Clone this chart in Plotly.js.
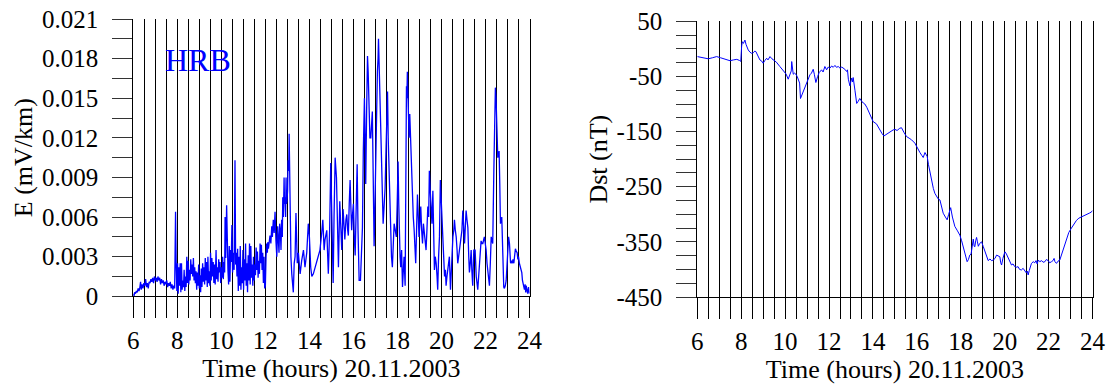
<!DOCTYPE html>
<html><head><meta charset="utf-8">
<script src="https://cdn.plot.ly/plotly-3.0.1.min.js"></script>
<style>html,body{margin:0;padding:0;background:#fff}#chart{width:1112px;height:390px}</style>
</head><body><div id="chart"></div>
<script>
// ---- Left panel: E (mV/km), HRB ----
const eTime = [6.00,6.03,6.06,6.10,6.14,6.18,6.22,6.26,6.30,6.33,6.36,6.40,6.44,6.48,6.52,6.56,6.60,6.64,6.68,6.72,6.76,6.80,6.84,6.88,6.92,6.96,7.00,7.04,7.08,7.12,7.16,7.20,7.24,7.28,7.32,7.36,7.40,7.44,7.48,7.52,7.56,7.60,7.64,7.68,7.72,7.76,7.80,7.84,7.88,7.92,7.95,7.98,8.01,8.04,8.07,8.10,8.13,8.16,8.19,8.22,8.25,8.28,8.31,8.34,8.37,8.40,8.43,8.46,8.49,8.52,8.55,8.58,8.61,8.64,8.67,8.70,8.73,8.76,8.79,8.82,8.85,8.88,8.91,8.94,8.97,9.00,9.03,9.06,9.09,9.12,9.15,9.18,9.21,9.24,9.27,9.30,9.33,9.36,9.39,9.42,9.45,9.48,9.51,9.54,9.57,9.60,9.63,9.66,9.69,9.72,9.76,9.79,9.82,9.85,9.88,9.91,9.94,9.97,10.00,10.03,10.06,10.09,10.12,10.15,10.17,10.20,10.24,10.27,10.30,10.33,10.36,10.39,10.42,10.45,10.48,10.51,10.55,10.58,10.62,10.65,10.68,10.71,10.74,10.77,10.80,10.83,10.86,10.89,10.92,10.95,10.98,11.01,11.04,11.07,11.10,11.13,11.16,11.19,11.22,11.25,11.28,11.31,11.34,11.37,11.40,11.43,11.46,11.49,11.52,11.55,11.58,11.61,11.64,11.67,11.70,11.73,11.76,11.79,11.82,11.85,11.88,11.91,11.94,11.97,12.00,12.03,12.06,12.09,12.11,12.14,12.18,12.21,12.25,12.29,12.32,12.36,12.40,12.44,12.48,12.52,12.56,12.59,12.62,12.65,12.68,12.71,12.74,12.77,12.79,12.82,12.85,12.87,12.89,12.92,12.94,12.96,12.98,13.01,13.03,13.06,13.08,13.10,13.12,13.16,13.20,13.24,13.27,13.31,13.35,13.39,13.42,13.45,13.50,13.58,13.65,13.73,13.80,13.88,13.95,14.00,14.06,14.11,14.18,14.26,14.33,14.41,14.48,14.56,14.61,14.67,14.71,14.79,14.83,14.86,14.92,14.97,15.02,15.08,15.12,15.17,15.23,15.28,15.32,15.38,15.43,15.47,15.53,15.57,15.61,15.66,15.70,15.74,15.77,15.81,15.85,15.89,15.92,15.96,16.00,16.04,16.08,16.13,16.17,16.21,16.26,16.32,16.37,16.41,16.45,16.50,16.53,16.56,16.60,16.64,16.67,16.71,16.75,16.79,16.83,16.86,16.90,16.94,16.98,17.02,17.06,17.09,17.12,17.14,17.17,17.20,17.24,17.29,17.32,17.35,17.40,17.44,17.48,17.52,17.55,17.58,17.62,17.66,17.70,17.73,17.77,17.81,17.85,17.90,17.95,17.99,18.03,18.06,18.08,18.12,18.15,18.19,18.23,18.27,18.30,18.35,18.38,18.41,18.43,18.45,18.48,18.50,18.53,18.56,18.59,18.62,18.65,18.68,18.72,18.76,18.79,18.83,18.87,18.91,18.95,18.98,19.02,19.06,19.10,19.14,19.18,19.21,19.25,19.30,19.34,19.38,19.42,19.45,19.49,19.53,19.57,19.61,19.65,19.68,19.72,19.76,19.80,19.83,19.87,19.91,19.95,19.98,20.02,20.06,20.10,20.14,20.18,20.21,20.25,20.29,20.33,20.36,20.41,20.46,20.52,20.56,20.59,20.63,20.67,20.71,20.74,20.78,20.82,20.86,20.89,20.93,20.97,21.01,21.05,21.09,21.12,21.16,21.20,21.24,21.27,21.31,21.35,21.38,21.42,21.47,21.53,21.58,21.62,21.65,21.69,21.73,21.77,21.80,21.84,21.88,21.92,21.95,21.99,22.03,22.07,22.11,22.15,22.18,22.22,22.26,22.30,22.33,22.38,22.41,22.45,22.48,22.50,22.53,22.56,22.59,22.62,22.65,22.68,22.71,22.74,22.77,22.80,22.83,22.86,22.90,22.94,22.98,23.02,23.05,23.09,23.14,23.17,23.21,23.25,23.29,23.32,23.36,23.40,23.44,23.47,23.50,23.54,23.59,23.62,23.65,23.68,23.71,23.74,23.77,23.80,23.83,23.85,23.88,23.92,23.96,24.00];
const eValue = [0.0002,0.0000,0.0003,0.0002,0.0004,0.0003,0.0006,0.0004,0.0007,0.0011,0.0005,0.0009,0.0006,0.0010,0.0008,0.0013,0.0007,0.0010,0.0006,0.0011,0.0010,0.0013,0.0011,0.0014,0.0010,0.0015,0.0012,0.0014,0.0011,0.0015,0.0012,0.0014,0.0009,0.0013,0.0010,0.0012,0.0008,0.0011,0.0009,0.0012,0.0007,0.0010,0.0008,0.0011,0.0006,0.0009,0.0005,0.0008,0.0006,0.0064,0.0022,0.0004,0.0025,0.0002,0.0022,0.0008,0.0025,0.0003,0.0025,0.0005,0.0012,0.0007,0.0020,0.0004,0.0015,0.0007,0.0030,0.0010,0.0027,0.0009,0.0020,0.0012,0.0028,0.0017,0.0024,0.0015,0.0029,0.0012,0.0022,0.0010,0.0019,0.0005,0.0018,0.0008,0.0024,0.0006,0.0016,0.0003,0.0021,0.0007,0.0025,0.0011,0.0022,0.0009,0.0029,0.0012,0.0026,0.0007,0.0030,0.0010,0.0019,0.0008,0.0033,0.0012,0.0029,0.0015,0.0026,0.0010,0.0024,0.0009,0.0035,0.0013,0.0022,0.0011,0.0028,0.0018,0.0026,0.0010,0.0022,0.0014,0.0030,0.0013,0.0026,0.0018,0.0060,0.0029,0.0069,0.0030,0.0020,0.0009,0.0038,0.0011,0.0035,0.0026,0.0054,0.0018,0.0033,0.0020,0.0103,0.0024,0.0033,0.0015,0.0036,0.0004,0.0030,0.0008,0.0038,0.0005,0.0022,0.0010,0.0035,0.0005,0.0028,0.0012,0.0040,0.0008,0.0025,0.0003,0.0031,0.0012,0.0040,0.0009,0.0038,0.0014,0.0024,0.0008,0.0030,0.0012,0.0024,0.0016,0.0037,0.0020,0.0034,0.0014,0.0027,0.0017,0.0040,0.0025,0.0039,0.0020,0.0033,0.0010,0.0030,0.0006,0.0008,0.0030,0.0040,0.0033,0.0041,0.0036,0.0045,0.0046,0.0040,0.0053,0.0045,0.0058,0.0048,0.0064,0.0042,0.0030,0.0053,0.0040,0.0033,0.0055,0.0050,0.0035,0.0058,0.0045,0.0075,0.0060,0.0090,0.0070,0.0075,0.0060,0.0090,0.0070,0.0072,0.0080,0.0103,0.0095,0.0123,0.0090,0.0063,0.0030,0.0017,0.0010,0.0003,0.0025,0.0030,0.0063,0.0040,0.0025,0.0033,0.0017,0.0027,0.0035,0.0022,0.0033,0.0055,0.0045,0.0022,0.0015,0.0017,0.0022,0.0025,0.0030,0.0035,0.0048,0.0058,0.0035,0.0043,0.0050,0.0027,0.0017,0.0050,0.0101,0.0060,0.0010,0.0060,0.0105,0.0090,0.0050,0.0022,0.0072,0.0050,0.0035,0.0066,0.0050,0.0043,0.0058,0.0062,0.0050,0.0046,0.0070,0.0088,0.0065,0.0050,0.0062,0.0070,0.0045,0.0031,0.0070,0.0100,0.0050,0.0012,0.0012,0.0030,0.0052,0.0110,0.0150,0.0120,0.0085,0.0140,0.0182,0.0170,0.0150,0.0120,0.0120,0.0140,0.0140,0.0090,0.0038,0.0070,0.0120,0.0150,0.0170,0.0180,0.0195,0.0175,0.0155,0.0130,0.0110,0.0080,0.0055,0.0070,0.0082,0.0110,0.0140,0.0155,0.0120,0.0095,0.0060,0.0040,0.0030,0.0022,0.0040,0.0055,0.0050,0.0045,0.0070,0.0102,0.0070,0.0045,0.0030,0.0022,0.0035,0.0007,0.0020,0.0030,0.0008,0.0080,0.0159,0.0150,0.0170,0.0140,0.0125,0.0120,0.0138,0.0120,0.0113,0.0090,0.0072,0.0060,0.0050,0.0040,0.0025,0.0050,0.0077,0.0060,0.0045,0.0055,0.0068,0.0050,0.0040,0.0055,0.0050,0.0042,0.0035,0.0050,0.0068,0.0060,0.0095,0.0080,0.0070,0.0055,0.0080,0.0040,0.0020,0.0030,0.0025,0.0015,0.0005,0.0030,0.0045,0.0088,0.0075,0.0060,0.0045,0.0030,0.0015,0.0020,0.0008,0.0015,0.0020,0.0025,0.0030,0.0005,0.0025,0.0045,0.0050,0.0058,0.0050,0.0045,0.0035,0.0025,0.0030,0.0035,0.0040,0.0045,0.0050,0.0065,0.0050,0.0040,0.0055,0.0065,0.0058,0.0052,0.0030,0.0018,0.0025,0.0035,0.0020,0.0008,0.0035,0.0035,0.0015,0.0010,0.0005,0.0015,0.0025,0.0035,0.0042,0.0040,0.0040,0.0043,0.0045,0.0040,0.0035,0.0025,0.0017,0.0010,0.0008,0.0025,0.0045,0.0042,0.0040,0.0095,0.0145,0.0158,0.0150,0.0142,0.0125,0.0105,0.0108,0.0110,0.0085,0.0055,0.0058,0.0060,0.0035,0.0010,0.0007,0.0006,0.0008,0.0012,0.0025,0.0040,0.0045,0.0040,0.0025,0.0027,0.0025,0.0028,0.0025,0.0030,0.0036,0.0034,0.0033,0.0028,0.0030,0.0025,0.0022,0.0020,0.0018,0.0012,0.0010,0.0006,0.0005,0.0009,0.0003,0.0008,0.0004,0.0002,0.0007,0.0002];

// ---- Right panel: Dst (nT) ----
const dstTime = [6.00,6.15,6.30,6.50,6.70,6.88,7.05,7.25,7.49,7.65,7.80,7.92,7.98,8.02,8.05,8.10,8.17,8.22,8.27,8.32,8.40,8.47,8.55,8.62,8.67,8.75,8.85,8.93,9.00,9.08,9.16,9.22,9.31,9.40,9.50,9.60,9.76,9.88,9.99,10.05,10.14,10.22,10.28,10.30,10.34,10.37,10.43,10.49,10.55,10.60,10.66,10.70,10.78,10.90,11.00,11.13,11.20,11.28,11.33,11.40,11.48,11.55,11.66,11.73,11.81,11.89,11.96,12.04,12.12,12.19,12.27,12.34,12.42,12.50,12.58,12.65,12.72,12.80,12.84,12.88,12.95,13.00,13.03,13.07,13.10,13.18,13.26,13.33,13.40,13.50,13.63,13.72,13.86,14.01,14.16,14.31,14.42,14.50,14.60,14.70,14.80,14.92,15.00,15.10,15.22,15.30,15.42,15.53,15.65,15.76,15.91,16.02,16.14,16.22,16.29,16.37,16.43,16.47,16.53,16.60,16.68,16.75,16.82,16.90,16.97,17.05,17.12,17.20,17.30,17.38,17.45,17.54,17.62,17.73,17.85,17.96,18.04,18.11,18.20,18.29,18.35,18.41,18.47,18.52,18.57,18.61,18.64,18.68,18.72,18.76,18.80,18.86,18.95,19.02,19.10,19.18,19.25,19.33,19.40,19.48,19.56,19.63,19.70,19.78,19.82,19.86,19.92,20.01,20.08,20.16,20.24,20.31,20.38,20.46,20.54,20.61,20.68,20.76,20.84,20.92,20.98,21.03,21.07,21.12,21.17,21.22,21.30,21.37,21.43,21.48,21.53,21.60,21.68,21.75,21.83,21.90,21.98,22.05,22.13,22.20,22.25,22.29,22.36,22.43,22.51,22.60,22.67,22.75,22.82,22.92,23.04,23.15,23.27,23.38,23.50,23.62,23.73,23.85,23.95,24.00];
const dstValue = [-14,-15,-17,-18,-16,-14,-16,-19,-21.5,-20,-19,-21,-22.7,5,13,10,16,8,2,-2,-6,-8,-7,-4,-5,-12,-20,-22,-26,-21,-17,-20,-14,-18,-21,-24,-32,-38,-44,-46,-55,-48,-40,-23,-40,-46,-44,-46,-50,-56,-62,-90,-82,-72,-62,-47,-44,-37,-46,-61,-50,-43,-38,-42,-32,-38,-33,-35,-31,-33.5,-30,-33.5,-32,-35,-33,-35,-37,-41,-38,-55,-67,-58,-53,-60,-52,-75,-99,-95,-90,-96,-100,-106,-120,-132,-136,-148,-154,-158,-155,-152,-150,-147,-146,-148,-144,-143,-152,-159,-162,-165,-171,-180,-188,-193,-197,-188,-192,-195,-210,-226,-242,-253,-262,-268,-272,-274,-285,-298,-305,-310,-300,-288,-305,-322,-330,-338,-348,-359,-372,-386,-382,-374,-372,-360,-345,-358,-359,-348,-342,-350,-358,-353,-350,-358,-368,-378,-384,-381,-384,-383,-380,-374,-375,-377,-388,-392,-380,-368,-372,-380,-388,-392,-390,-395,-396,-395,-400,-401,-398,-404,-406,-403,-410,-402,-392,-389,-386,-388,-384,-390,-383,-386,-384,-387,-386,-382,-384,-388,-386,-384,-380,-386,-389,-385,-383,-372,-362,-350,-342,-333,-325,-318,-311,-307,-305,-302,-300,-298,-296,-293];

// ---- Ticks and labels ----
const xTickVals = [6,8,10,12,14,16,18,20,22,24];
const eTickVals = [0,0.003,0.006,0.009,0.012,0.015,0.018,0.021];
const eTickText = ['0','0.003','0.006','0.009','0.012','0.015','0.018','0.021'];
const dstTickVals = [-450,-350,-250,-150,-50,50];
const dstTickText = ['-450','-350','-250','-150','-50','50'];
const xTitle = 'Time (hours) 20.11.2003';
const eTitle = 'E (mV/km)';
const dstTitle = 'Dst (nT)';
const stationLabel = 'HRB';

const FONT = 'Liberation Serif';
const FS = 25;
const FT = 26;
const W = 1112, H = 390;

function xAxisCfg(dom, anchor) {
  return {
    domain: dom, anchor: anchor, range: [6, 24], fixedrange: true,
    tickmode: 'array', tickvals: xTickVals,
    ticks: 'outside', ticklen: 21, tickwidth: 1, tickcolor: '#000',
    showgrid: true, gridcolor: '#000', gridwidth: 1,
    minor: {tickmode: 'linear', tick0: 6, dtick: 0.5, ticks: 'outside', ticklen: 21,
            tickwidth: 1, tickcolor: '#000', showgrid: true, gridcolor: '#000', gridwidth: 1},
    showline: true, linecolor: '#000', linewidth: 1, zeroline: false,
    tickfont: {family: FONT, size: FS, color: '#000'},
    ticklabelstandoff: 1,
    title: {text: xTitle, font: {family: FONT, size: FT, color: '#000'}, standoff: 1},
    automargin: false
  };
}
function yAxisCfg(dom, anchor, range, tv, tt, minorDt, minor0, title) {
  return {
    domain: dom, anchor: anchor, range: range, fixedrange: true,
    tickmode: 'array', tickvals: tv, ticktext: tt,
    ticks: 'outside', ticklen: 20, tickwidth: 1, tickcolor: '#333',
    minor: {tickmode: 'linear', tick0: minor0, dtick: minorDt, ticks: 'outside', ticklen: 20,
            tickwidth: 1, tickcolor: '#333', showgrid: false},
    showgrid: false, zeroline: false,
    showline: true, mirror: true, linecolor: '#000', linewidth: 1,
    tickfont: {family: FONT, size: FS, color: '#000'},
    ticklabelstandoff: 9,
    title: {text: title, font: {family: FONT, size: FT, color: '#000'}, standoff: 1},
    automargin: false
  };
}

const data = [
  {x: eTime, y: eValue, xaxis: 'x', yaxis: 'y', type: 'scatter', mode: 'lines',
   line: {color: '#0000ff', width: 1.3}, hoverinfo: 'skip'},
  {x: dstTime, y: dstValue, xaxis: 'x2', yaxis: 'y2', type: 'scatter', mode: 'lines',
   line: {color: '#0000ff', width: 1}, hoverinfo: 'skip'}
];

const layout = {
  width: W, height: H, margin: {l: 0, r: 0, t: 0, b: 0},
  paper_bgcolor: '#fff', plot_bgcolor: '#fff', showlegend: false,
  font: {family: FONT, size: FS, color: '#000'},
  xaxis: xAxisCfg([133.3 / W, 529.5 / W], 'y'),
  yaxis: yAxisCfg([1 - 296.3 / H, 1 - 19 / H], 'x', [0, 0.021], eTickVals, eTickText, 0.0015, 0, eTitle),
  xaxis2: xAxisCfg([697.3 / W, 1092.5 / W], 'y2'),
  yaxis2: yAxisCfg([1 - 297 / H, 1 - 21.3 / H], 'x2', [-450, 50], dstTickVals, dstTickText, 25, 50, dstTitle),
  annotations: [{
    xref: 'x', yref: 'y', x: 8.92, y: 0.0179, text: stationLabel, showarrow: false,
    xanchor: 'center', yanchor: 'middle',
    font: {family: FONT, size: 32, color: '#0000ff'}
  }]
};

Plotly.newPlot('chart', data, layout, {staticPlot: true, displayModeBar: false});
</script>
</body></html>
